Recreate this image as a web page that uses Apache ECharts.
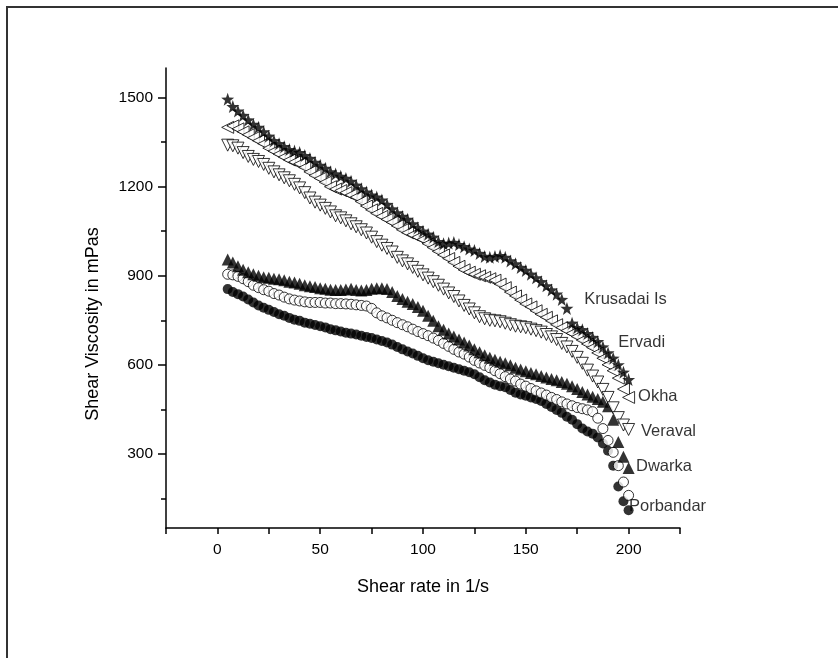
<!DOCTYPE html>
<html>
<head>
<meta charset="utf-8">
<script src="https://cdn.jsdelivr.net/npm/echarts@6/dist/echarts.min.js"></script>
<style>
html,body{margin:0;padding:0;background:#fff;}
#chart{width:838px;height:658px;}
</style>
</head>
<body>
<div id="chart"></div>
<script>
// Shear rate (1/s)
var shearRate = [5,7.5,10,12.5,15,17.5,20,22.5,25,27.5,30,32.5,35,37.5,40,42.5,45,47.5,50,52.5,55,57.5,60,62.5,65,67.5,70,72.5,75,77.5,80,82.5,85,87.5,90,92.5,95,97.5,100,102.5,105,107.5,110,112.5,115,117.5,120,122.5,125,127.5,130,132.5,135,137.5,140,142.5,145,147.5,150,152.5,155,157.5,160,162.5,165,167.5,170,172.5,175,177.5,180,182.5,185,187.5,190,192.5,195,197.5,200];

// Shear viscosity (mPas)
var krusadai = [1495,1470,1455,1440,1425,1410,1400,1385,1370,1355,1345,1335,1325,1320,1315,1305,1295,1282,1272,1262,1250,1243,1235,1228,1218,1205,1193,1182,1172,1165,1155,1140,1125,1112,1100,1090,1075,1062,1050,1040,1030,1015,1008,1010,1012,1005,998,990,985,975,965,962,965,968,962,950,940,928,918,905,893,880,866,852,838,820,790,740,725,718,705,692,678,660,640,622,600,575,550];
var ervadi = [1400,1405,1395,1385,1375,1365,1355,1345,1330,1320,1310,1300,1290,1283,1277,1265,1250,1238,1228,1215,1200,1192,1187,1180,1172,1165,1150,1135,1122,1110,1100,1090,1080,1068,1055,1045,1038,1030,1022,1008,995,982,970,958,945,932,920,912,905,900,895,890,885,872,860,845,832,818,805,795,782,770,760,748,735,725,715,706,695,683,670,658,640,622,600,580,555,518,490];
var okha = [1340,1338,1330,1315,1302,1292,1285,1275,1262,1250,1240,1230,1220,1208,1196,1180,1162,1148,1138,1127,1115,1102,1095,1085,1075,1065,1055,1044,1030,1015,1003,992,980,962,950,940,928,915,903,892,880,868,855,842,830,815,800,788,775,762,755,750,748,745,740,735,730,728,725,720,715,710,702,694,685,672,660,645,625,605,582,562,542,517,490,455,422,397,382];
var veraval = [955,945,932,920,912,905,900,895,893,890,888,885,880,877,873,868,865,862,858,856,853,852,852,854,856,852,850,852,856,858,858,855,845,832,822,812,805,795,782,765,748,730,718,705,695,685,675,665,652,642,632,624,617,610,605,598,590,584,578,572,568,562,557,552,548,542,536,528,518,508,500,492,485,475,460,415,340,290,252];
var dwarka = [905,903,898,890,880,868,860,853,848,840,835,828,822,818,815,812,810,810,810,808,808,806,806,805,804,802,800,798,790,775,765,758,750,742,735,728,720,712,705,698,690,682,672,662,652,643,636,626,615,606,598,590,580,570,560,552,545,535,528,520,512,505,498,490,483,475,468,462,456,452,448,442,420,385,345,305,260,205,160];
var porbandar = [855,845,838,830,820,810,800,792,785,778,770,765,758,752,748,742,738,734,730,726,720,716,712,708,705,702,698,694,690,685,680,675,668,660,652,645,638,630,622,615,610,605,600,595,590,585,580,575,568,558,548,540,533,528,524,515,506,500,496,490,485,478,468,458,448,438,425,415,400,385,375,368,355,335,310,260,190,140,110];

// Site labels and their anchor positions (shear rate, viscosity)
var siteNames = ['Krusadai Is','Ervadi','Okha','Veraval','Dwarka','Porbandar'];
var siteLabelX = [178.4,195,204.6,206,203.6,200.2];
var siteLabelY = [819,674,492,374,259,121];

// Axis ticks
var yMajor = [300,600,900,1200,1500];
var yMinor = [150,450,750,1050,1350];
var xLabels = [0,50,100,150,200];

function pairs(ys){ return ys.map(function(v,i){ return [shearRate[i], v]; }); }

var starPath = 'path://M0,-10 L2.35,-3.24 L9.51,-3.09 L3.8,1.24 L5.88,8.09 L0,4 L-5.88,8.09 L-3.8,1.24 L-9.51,-3.09 L-2.35,-3.24 Z';
var FONT = "'Liberation Sans', Arial, sans-serif";

var openStyle = {color:'#fff', borderColor:'#000', borderWidth:1};
var fillStyle = {color:'#000'};
var plain = function(v){ return String(v); };

var chart = echarts.init(document.getElementById('chart'), null, {renderer:'canvas'});
chart.setOption({
  animation:false,
  backgroundColor:'#fff',
  grid:{left:166, top:68, right:158, bottom:130, containLabel:false},
  xAxis:[{
    type:'value', min:-25, max:225, interval:25,
    name:'Shear rate in 1/s', nameLocation:'middle', nameGap:50,
    nameTextStyle:{fontFamily:FONT, fontSize:18, color:'#000'},
    axisLine:{show:true, onZero:false, lineStyle:{color:'#000', width:1.5}},
    axisTick:{show:true, inside:false, length:6, lineStyle:{color:'#000', width:1.5}},
    axisLabel:{show:true, customValues:xLabels, formatter:plain, margin:14, fontFamily:FONT, fontSize:15.5, color:'#000'},
    splitLine:{show:false}
  }],
  yAxis:[{
    type:'value', min:50, max:1600, position:'left',
    axisLine:{show:true, onZero:false, lineStyle:{color:'#000', width:1.5}},
    axisTick:{show:true, customValues:yMajor, length:8, lineStyle:{color:'#000', width:1.5}},
    axisLabel:{show:true, customValues:yMajor, formatter:plain, margin:13, fontFamily:FONT, fontSize:15.5, color:'#000'},
    splitLine:{show:false}
  },{
    type:'value', min:50, max:1600, position:'left',
    axisLine:{show:false, onZero:false},
    axisTick:{show:true, customValues:yMinor, length:5, lineStyle:{color:'#000', width:1.5}},
    axisLabel:{show:false},
    splitLine:{show:false}
  }],
  graphic:[
    {type:'rect', shape:{x:7, y:7, width:900, height:700}, style:{fill:null, stroke:'#333', lineWidth:2}, silent:true},
    {type:'text', x:93, y:324, rotation:Math.PI/2,
     style:{text:'Shear Viscosity in mPas', fontFamily:FONT, fontSize:18, fill:'#000', textAlign:'center', textVerticalAlign:'middle'}}
  ],
  series:[
    {name:'Porbandar', type:'scatter', symbol:'circle', symbolSize:10, itemStyle:fillStyle, data:pairs(porbandar)},
    {name:'Dwarka', type:'scatter', symbol:'circle', symbolSize:10, itemStyle:openStyle, data:pairs(dwarka)},
    {name:'Veraval', type:'scatter', symbol:'triangle', symbolSize:12, itemStyle:fillStyle, data:pairs(veraval)},
    {name:'Okha', type:'scatter', symbol:'triangle', symbolRotate:180, symbolSize:12, itemStyle:openStyle, data:pairs(okha)},
    {name:'Ervadi', type:'scatter', symbol:'triangle', symbolRotate:90, symbolSize:12, itemStyle:openStyle, data:pairs(ervadi)},
    {name:'Krusadai Is', type:'scatter', symbol:starPath, symbolSize:13, itemStyle:fillStyle, data:pairs(krusadai)},
    {name:'labels', type:'scatter', symbolSize:0, silent:true,
     data:siteNames.map(function(n,i){ return {name:n, value:[siteLabelX[i], siteLabelY[i]]}; }),
     label:{show:true, position:'right', distance:0, formatter:'{b}', fontFamily:FONT, fontSize:16.5, color:'#000'}}
  ]
});
</script>
</body>
</html>
